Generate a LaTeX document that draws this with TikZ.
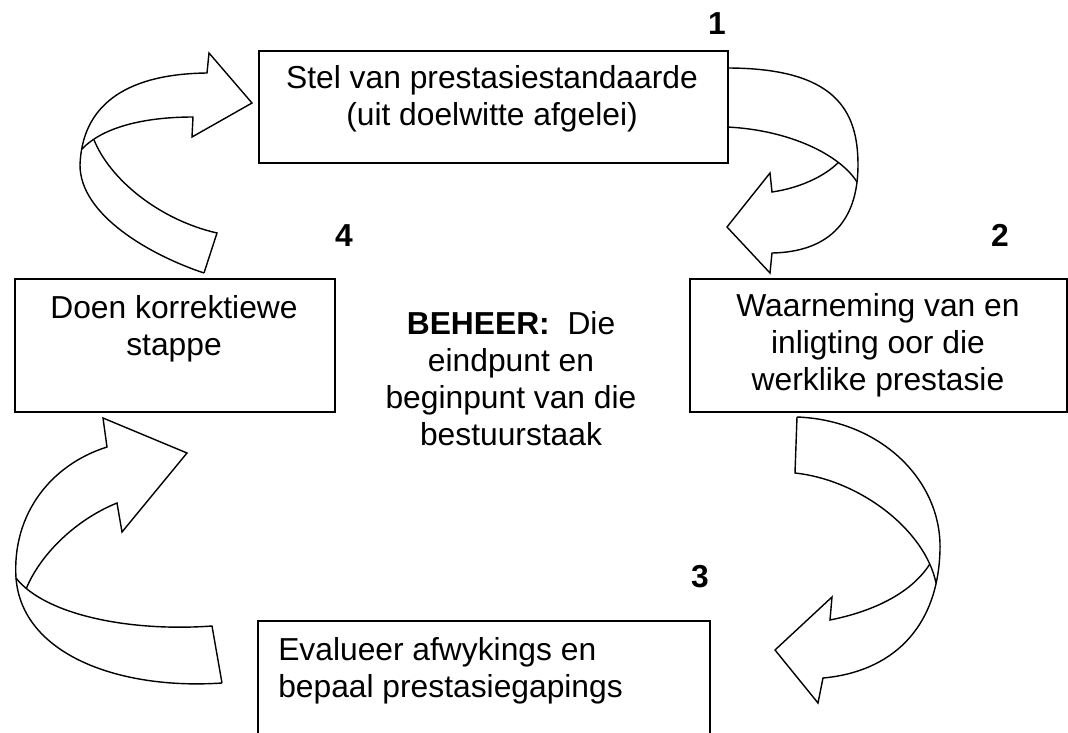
\documentclass[tikz,border=0pt]{standalone}
\usepackage{fontspec}
\setmainfont{Liberation Sans}

\begin{document}
\begin{tikzpicture}[
        x=0.025cm, y=-0.025cm,
        box/.style={draw, line width=1.4pt, inner sep=0pt, anchor=north west},
        lbl/.style={font=\fontsize{22.6pt}{26.1pt}\selectfont, inner sep=0pt, align=center},
        num/.style={font=\fontsize{22.6pt}{26.1pt}\selectfont\bfseries, inner sep=0pt, anchor=base},
        band/.style={draw, line width=1pt, line join=miter}
    ]
        \clip (0,0) rectangle (1068,732);

        % Blokke van die siklus
        \node[box, minimum width=11.725cm, minimum height=2.8cm] (stel) at (258,50) {};
        \node[box, minimum width=9.425cm, minimum height=3.325cm] (waar) at (689,278) {};
        \node[box, minimum width=11.3cm, minimum height=3.5cm] (eval) at (257,620) {};
        \node[box, minimum width=8cm, minimum height=3.325cm] (korr) at (14,278) {};

        % Teks in die blokke (base = basislyn van die laaste reel)
        \node[lbl, anchor=base] (stel-t) at (492,125) {Stel van prestasiestandaarde\\(uit doelwitte afgelei)};
        \node[lbl, anchor=base] (waar-t) at (878,390) {Waarneming van en\\inligting oor die\\werklike prestasie};
        \node[lbl, anchor=base west, align=left] (eval-t) at (278,697) {Evalueer afwykings en\\bepaal prestasiegapings};
        \node[lbl, anchor=base] (korr-t) at (174,355) {Doen korrektiewe\\stappe};
        \node[lbl, anchor=base] (beheer) at (511,445) {\textbf{BEHEER:}\ \ Die\\eindpunt en\\beginpunt van die\\bestuurstaak};

        % Nommers
        \node[num] (n1) at (717,34) {1};
        \node[num] (n2) at (1000,246) {2};
        \node[num] (n3) at (700,587) {3};
        \node[num] (n4) at (344,246) {4};

        % Pyl 4 -> 1
        \draw[band] (204,273) .. controls (150,255) and (80,215) .. (80,165)
            .. controls (82,108) and (122,74) .. (207,73)
            -- (209,53) -- (252,103) -- (192,137) -- (193,117)
            .. controls (150,117) and (105,125) .. (82,149) coordinate[pos=0.85] (a1);
        \draw[band] (a1) .. controls (110,180) and (160,220) .. (217,233) -- (204,273);

        % Pyl 1 -> 2
        \draw[band] (727,127) .. controls (790,130) and (840,155) .. (857,182) coordinate[pos=0.75] (b1);
        \draw[band] (727,68) .. controls (835,68) and (858,110) .. (858,165)
            .. controls (858,225) and (825,252) .. (772,253)
            -- (770,273) -- (727,227) -- (770,173) -- (772,192)
            .. controls (800,188) and (825,176) .. (b1);

        % Pyl 2 -> 3
        \draw[band] (797,417) -- (795,473) .. controls (860,480) and (925,530) .. (936,583) coordinate[pos=0.88] (c1);
        \draw[band] (797,417) .. controls (880,420) and (942,480) .. (940,550)
            .. controls (938,630) and (890,672) .. (823,678)
            -- (818,703) -- (775,650) -- (832,597) -- (830,620)
            .. controls (870,612) and (910,595) .. (c1);

        % Pyl 3 -> 4
        \draw[band] (222,683) -- (212,626) .. controls (130,632) and (45,615) .. (16,578) coordinate[pos=0.9] (d1);
        \draw[band] (222,683) .. controls (120,690) and (22,655) .. (16,578)
            .. controls (12,515) and (50,465) .. (107,447)
            -- (103,418) -- (187,453) -- (122,532) -- (117,503)
            .. controls (75,520) and (40,555) .. (d1);
\end{tikzpicture}
\end{document}
